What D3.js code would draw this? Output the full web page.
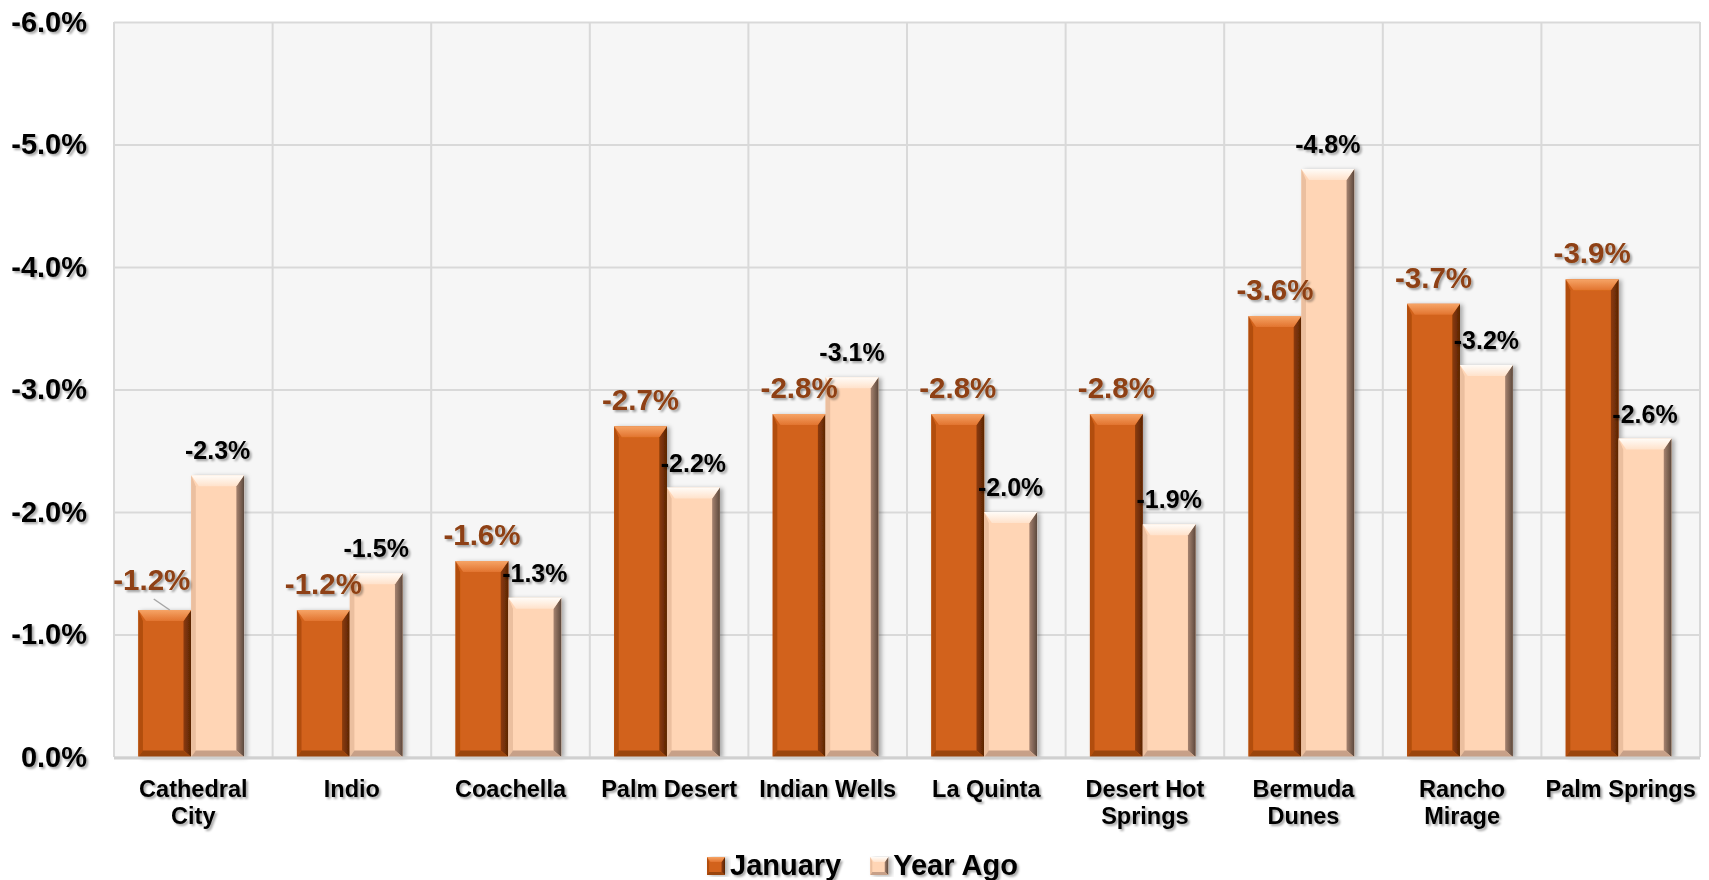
<!DOCTYPE html>
<html>
<head>
<meta charset="utf-8">
<script src="https://cdn.jsdelivr.net/npm/d3@7/dist/d3.min.js"></script>
<style>
  body { margin: 0; background: #fff; }
  svg { display: block; }
  text { font-family: Arial, "Liberation Sans", sans-serif; font-weight: bold; }
</style>
</head>
<body>
<script>
// values (percent change)
const cities = ["Cathedral City", "Indio", "Coachella", "Palm Desert", "Indian Wells",
                "La Quinta", "Desert Hot Springs", "Bermuda Dunes", "Rancho Mirage", "Palm Springs"];
const cityLines = [["Cathedral", "City"], ["Indio"], ["Coachella"], ["Palm Desert"], ["Indian Wells"],
                   ["La Quinta"], ["Desert Hot", "Springs"], ["Bermuda", "Dunes"], ["Rancho", "Mirage"], ["Palm Springs"]];
const january = [-1.2, -1.2, -1.6, -2.7, -2.8, -2.8, -2.8, -3.6, -3.7, -3.9];
const yearAgo = [-2.3, -1.5, -1.3, -2.2, -3.1, -2.0, -1.9, -4.8, -3.2, -2.6];
const series = ["January", "Year Ago"];
const yTicks = [0, -1, -2, -3, -4, -5, -6];

const width = 1709, height = 880;
const margin = {top: 22, right: 9, bottom: 123, left: 114};
const plotW = width - margin.left - margin.right;
const plotH = height - margin.top - margin.bottom;

const palettes = {
  "January": {body: "#d2621a", top0: "#f6a466", top1: "#e2742f", left: "#b24e0f",
              right0: "#8c3b0b", right1: "#5a2504", bottom: "#9a440f", label: "#8e4112", labelSize: 29.5},
  "Year Ago": {body: "#ffd5b5", top0: "#fffcf8", top1: "#ffe2cb", left: "#ebbf9f",
               right0: "#a68370", right1: "#5c483c", bottom: "#c7a088", label: "#000", labelSize: 25}
};

const svg = d3.select("body").append("svg")
    .attr("width", width)
    .attr("height", height);

const defs = svg.append("defs");

// soft shadow used by all text
const ts = defs.append("filter").attr("id", "tshadow")
    .attr("x", "-10%").attr("y", "-20%").attr("width", "130%").attr("height", "160%");
ts.append("feDropShadow").attr("dx", 2).attr("dy", 2).attr("stdDeviation", 1.3)
    .attr("flood-color", "#000").attr("flood-opacity", 0.35);

const bs = defs.append("filter").attr("id", "bshadow")
    .attr("x", "-20%").attr("y", "-5%").attr("width", "150%").attr("height", "115%");
bs.append("feDropShadow").attr("dx", 3).attr("dy", 1).attr("stdDeviation", 2)
    .attr("flood-color", "#000").attr("flood-opacity", 0.3);

series.forEach((s, i) => {
  const p = palettes[s];
  const gt = defs.append("linearGradient").attr("id", "top" + i)
      .attr("x1", 0).attr("y1", 0).attr("x2", 0).attr("y2", 1);
  gt.append("stop").attr("offset", "0%").attr("stop-color", p.top0);
  gt.append("stop").attr("offset", "100%").attr("stop-color", p.top1);
  const gr = defs.append("linearGradient").attr("id", "right" + i)
      .attr("x1", 0).attr("y1", 0).attr("x2", 1).attr("y2", 0);
  gr.append("stop").attr("offset", "0%").attr("stop-color", p.right0);
  gr.append("stop").attr("offset", "100%").attr("stop-color", p.right1);
});

const x0 = d3.scaleBand()
    .domain(cities)
    .range([margin.left, margin.left + plotW]);

const x1 = d3.scaleBand()
    .domain(series)
    .range([0, x0.bandwidth()])
    .paddingOuter(0.5)
    .align(0.46);

const y = d3.scaleLinear()
    .domain([0, -6])
    .range([margin.top + plotH, margin.top]);

// plot background
svg.append("rect")
    .attr("x", margin.left).attr("y", margin.top)
    .attr("width", plotW).attr("height", plotH)
    .attr("fill", "#f6f6f6");

// horizontal grid
svg.append("g")
    .attr("transform", `translate(${margin.left},0)`)
    .call(d3.axisLeft(y).tickValues(yTicks).tickSize(-plotW).tickFormat(""))
    .call(g => g.select(".domain").remove())
    .call(g => g.selectAll("line").attr("stroke", "#d9d9d9").attr("stroke-width", 2));

// vertical grid at category boundaries
svg.append("g")
  .selectAll("line")
  .data(cities.slice(1).concat(["__end"]))
  .join("line")
    .attr("x1", d => d === "__end" ? margin.left + plotW : x0(d))
    .attr("x2", d => d === "__end" ? margin.left + plotW : x0(d))
    .attr("y1", margin.top)
    .attr("y2", margin.top + plotH)
    .attr("stroke", "#d9d9d9")
    .attr("stroke-width", 2);

svg.append("line")
    .attr("x1", margin.left).attr("x2", margin.left)
    .attr("y1", margin.top).attr("y2", margin.top + plotH)
    .attr("stroke", "#d9d9d9").attr("stroke-width", 2);

// y axis labels
svg.append("g")
    .attr("transform", `translate(${margin.left},0)`)
    .call(d3.axisLeft(y).tickValues(yTicks).tickSize(0).tickPadding(27)
      .tickFormat(d => d.toFixed(1) + "%"))
    .call(g => g.select(".domain").remove())
    .call(g => g.selectAll("text")
      .attr("font-size", 29)
      .attr("fill", "#000")
      .attr("filter", "url(#tshadow)")
      .style("font-family", "Arial, 'Liberation Sans', sans-serif")
      .style("font-weight", "bold"));

// beveled bar
function bevelBar(g, x, yTop, w, h, i, b) {
  const p = palettes[series[i]];
  const bt = Math.min(b, h / 2), bs2 = Math.min(b * 0.7, w / 3), bb = Math.min(b * 0.6, h / 3);
  const gg = g.append("g").attr("filter", "url(#bshadow)");
  gg.append("rect").attr("x", x).attr("y", yTop).attr("width", w).attr("height", h).attr("fill", p.body);
  const pts = a => a.map(q => q.join(",")).join(" ");
  gg.append("polygon").attr("fill", p.left)
      .attr("points", pts([[x, yTop], [x + bs2 * 0.6, yTop + bt], [x + bs2 * 0.6, yTop + h - bb], [x, yTop + h]]));
  gg.append("polygon").attr("fill", `url(#right${i})`)
      .attr("points", pts([[x + w, yTop], [x + w, yTop + h], [x + w - bs2, yTop + h - bb], [x + w - bs2, yTop + bt]]));
  gg.append("polygon").attr("fill", p.bottom)
      .attr("points", pts([[x, yTop + h], [x + bs2 * 0.6, yTop + h - bb], [x + w - bs2, yTop + h - bb], [x + w, yTop + h]]));
  gg.append("polygon").attr("fill", `url(#top${i})`)
      .attr("points", pts([[x, yTop], [x + w, yTop], [x + w - bs2, yTop + bt], [x + bs2, yTop + bt]]));
}

const bars = svg.append("g");
const labels = svg.append("g");

cities.forEach((c, ci) => {
  [january[ci], yearAgo[ci]].forEach((v, si) => {
    const s = series[si];
    const bx = x0(c) + x1(s);
    const bw = x1.bandwidth();
    const yt = y(v);
    bevelBar(bars, bx, yt, bw, y(0) - yt, si, 11);

    const p = palettes[s];
    let lx = bx + bw / 2, ly = yt - 16;
    // first label is pulled out to the left with a leader line
    if (si === 0 && ci === 0) {
      lx -= 13; ly -= 4;
      labels.append("line")
          .attr("x1", lx + 2).attr("y1", ly + 9)
          .attr("x2", bx + bw / 2 + 5).attr("y2", yt)
          .attr("stroke", "#a6a6a6").attr("stroke-width", 1.5);
    }
    labels.append("text")
        .attr("x", lx).attr("y", ly)
        .attr("text-anchor", "middle")
        .attr("font-size", p.labelSize)
        .attr("fill", p.label)
        .attr("filter", "url(#tshadow)")
        .text(v.toFixed(1) + "%");
  });
});

// bottom axis line
svg.append("line")
    .attr("x1", margin.left).attr("x2", margin.left + plotW)
    .attr("y1", y(0) + 1).attr("y2", y(0) + 1)
    .attr("stroke", "#d0d0d0").attr("stroke-width", 3);

// x axis category labels
const xl = svg.append("g")
  .selectAll("text")
  .data(cities)
  .join("text")
    .attr("x", d => x0(d) + x0.bandwidth() / 2)
    .attr("y", 797)
    .attr("text-anchor", "middle")
    .attr("font-size", 23.5)
    .attr("fill", "#000")
    .attr("filter", "url(#tshadow)");

xl.selectAll("tspan")
  .data((d, i) => cityLines[i].map((t, k) => ({t, k, x: x0(d) + x0.bandwidth() / 2})))
  .join("tspan")
    .attr("x", d => d.x)
    .attr("dy", d => d.k === 0 ? 0 : 27)
    .text(d => d.t);

// legend
const legend = svg.append("g");
let lxPos = 707;
series.forEach((s, i) => {
  bevelBar(legend, lxPos, 857, 18, 18, i, 5);
  const t = legend.append("text")
      .attr("x", lxPos + 23).attr("y", 875)
      .attr("font-size", 29)
      .attr("fill", "#000")
      .attr("filter", "url(#tshadow)")
      .text(s);
  lxPos += 23 + t.node().getComputedTextLength() + 29;
});
</script>
</body>
</html>
